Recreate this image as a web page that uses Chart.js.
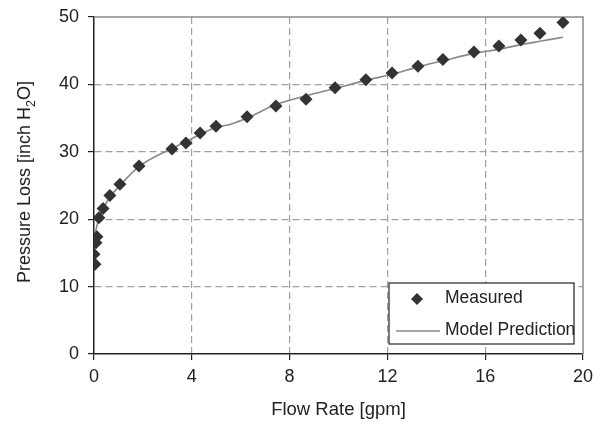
<!DOCTYPE html>
<html>
<head>
<meta charset="utf-8">
<script src="https://cdn.jsdelivr.net/npm/chart.js@4"></script>
<style>
html,body{margin:0;padding:0;background:#fff;}
#wrap{width:594px;height:425px;}
</style>
</head>
<body>
<div id="wrap"><canvas id="c" width="594" height="425"></canvas></div>
<script>
const measuredX = [0.04, 0.0, 0.08, 0.12, 0.2, 0.37, 0.65, 1.06, 1.84, 3.19, 3.76, 4.34, 4.99, 6.26, 7.44, 8.67, 9.86, 11.12, 12.19, 13.25, 14.27, 15.54, 16.56, 17.46, 18.24, 19.18];
const measuredY = [13.3, 14.8, 16.5, 17.4, 20.2, 21.6, 23.5, 25.2, 27.9, 30.4, 31.3, 32.8, 33.8, 35.2, 36.8, 37.8, 39.5, 40.7, 41.7, 42.7, 43.7, 44.8, 45.7, 46.6, 47.6, 49.2];
const modelX = [0.04, 0.2, 0.4, 0.65, 1.06, 1.84, 3.19, 3.76, 4.34, 4.99, 5.6, 6.26, 7.44, 8.67, 9.86, 11.12, 12.19, 13.25, 14.27, 15.54, 16.56, 17.46, 18.24, 19.18];
const modelY = [17.8, 20.1, 21.7, 23.3, 25.0, 27.8, 30.5, 31.5, 32.6, 33.6, 34.1, 35.0, 37.0, 38.3, 39.4, 40.6, 41.5, 42.6, 43.5, 44.6, 45.2, 45.9, 46.4, 47.0];
const xTicks = [0, 4, 8, 12, 16, 20];
const yTicks = [0, 10, 20, 30, 40, 50];
const seriesNames = ["Measured", "Model Prediction"];
const xTitle = "Flow Rate [gpm]";

const FONT = "'Liberation Sans', Arial, sans-serif";
const toPts = (xs, ys) => xs.map((x, i) => ({x: x, y: ys[i]}));

const framePlugin = {
  id: 'frame',
  beforeDatasetsDraw(chart) {
    const {ctx, chartArea: a} = chart;
    ctx.save();
    ctx.strokeStyle = '#8a8a8a';
    ctx.lineWidth = 1.5;
    ctx.beginPath();
    ctx.moveTo(a.left, a.top);
    ctx.lineTo(a.right, a.top);
    ctx.lineTo(a.right, a.bottom);
    ctx.stroke();
    ctx.restore();
  },
  afterDraw(chart) {
    const {ctx} = chart;
    // y axis title with subscript
    ctx.save();
    ctx.fillStyle = '#222';
    ctx.translate(30, 182);
    ctx.rotate(-Math.PI / 2);
    ctx.textBaseline = 'alphabetic';
    const parts = [["Pressure Loss [inch H", 18, 0], ["2", 12.5, 5], ["O]", 18, 0]];
    let total = 0;
    parts.forEach(p => { ctx.font = p[1] + 'px ' + FONT; total += ctx.measureText(p[0]).width; });
    let x = -total / 2;
    parts.forEach(p => {
      ctx.font = p[1] + 'px ' + FONT;
      ctx.fillText(p[0], x, p[2]);
      x += ctx.measureText(p[0]).width;
    });
    ctx.restore();

    // legend box
    ctx.save();
    ctx.fillStyle = '#fff';
    ctx.fillRect(389, 283, 185, 61);
    ctx.strokeStyle = '#222';
    ctx.lineWidth = 1.2;
    ctx.strokeRect(389, 283, 185, 61);
    // diamond
    ctx.fillStyle = '#333';
    ctx.beginPath();
    ctx.moveTo(417, 293);
    ctx.lineTo(423, 299);
    ctx.lineTo(417, 305);
    ctx.lineTo(411, 299);
    ctx.closePath();
    ctx.fill();
    // line
    ctx.strokeStyle = '#888';
    ctx.lineWidth = 1.5;
    ctx.beginPath();
    ctx.moveTo(396, 331);
    ctx.lineTo(440, 331);
    ctx.stroke();
    ctx.fillStyle = '#222';
    ctx.font = '17.5px ' + FONT;
    ctx.textBaseline = 'middle';
    ctx.fillText(seriesNames[0], 445, 298);
    ctx.fillText(seriesNames[1], 445, 330);
    ctx.restore();
  }
};

const gridColor = (ctx) => {
  const v = ctx.tick ? ctx.tick.value : null;
  const sc = ctx.scale;
  if (v === sc.min || v === sc.max) return 'rgba(0,0,0,0)';
  return '#a0a0a0';
};

new Chart(document.getElementById('c'), {
  type: 'scatter',
  data: {
    datasets: [
      {
        label: seriesNames[0],
        data: toPts(measuredX, measuredY),
        pointStyle: 'rectRot',
        pointRadius: 6.5,
        pointHoverRadius: 6.5,
        backgroundColor: '#333',
        borderColor: '#333',
        borderWidth: 0,
        showLine: false,
        order: 1
      },
      {
        label: seriesNames[1],
        data: toPts(modelX, modelY),
        showLine: true,
        pointRadius: 0,
        borderColor: '#888',
        borderWidth: 1.6,
        cubicInterpolationMode: 'monotone',
        fill: false,
        order: 2
      }
    ]
  },
  options: {
    responsive: false,
    animation: false,
    devicePixelRatio: 1,
    layout: {padding: {top: 17, right: 11, left: 0, bottom: 0}},
    plugins: {legend: {display: false}, tooltip: {enabled: false}},
    scales: {
      x: {
        type: 'linear',
        min: 0, max: 20,
        afterBuildTicks: (s) => { s.ticks = xTicks.map(v => ({value: v})); },
        afterFit: (s) => { s.height = 71; s.paddingRight = 0; s.paddingLeft = 0; },
        border: {display: true, color: '#222', width: 1.5, dash: [7, 4]},
        grid: {
          color: gridColor,
          lineWidth: 1.2,
          drawTicks: true,
          tickLength: 6,
          tickColor: '#222',
          tickWidth: 1.2,
          tickBorderDash: []
        },
        ticks: {color: '#222', font: {family: FONT, size: 18}, padding: 6, maxRotation: 0},
        title: {display: true, text: xTitle, color: '#222', font: {family: FONT, size: 18.5}, padding: {top: 8}}
      },
      y: {
        type: 'linear',
        min: 0, max: 50,
        afterBuildTicks: (s) => { s.ticks = yTicks.map(v => ({value: v})); },
        afterFit: (s) => { s.width = 94; s.paddingTop = 0; s.paddingBottom = 0; },
        border: {display: true, color: '#222', width: 1.5, dash: [7, 4]},
        grid: {
          color: gridColor,
          lineWidth: 1.2,
          drawTicks: true,
          tickLength: 6,
          tickColor: '#222',
          tickWidth: 1.2,
          tickBorderDash: []
        },
        ticks: {color: '#222', font: {family: FONT, size: 18}, padding: 9}
      }
    }
  },
  plugins: [framePlugin]
});
</script>
</body>
</html>
